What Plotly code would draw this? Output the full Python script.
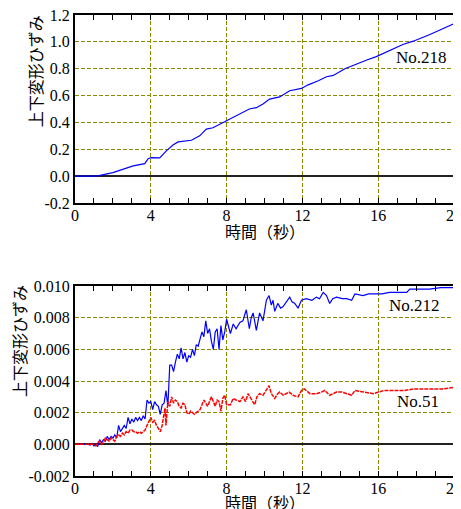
import plotly.graph_objects as go

# ---- data ----
t218 = [0, 1.14, 2.0, 3.07, 3.68, 3.86, 4.03, 4.47, 4.82, 5.17, 5.44, 5.88, 6.14, 6.58, 6.93, 7.28, 7.63, 8.16,
        8.7, 9.2, 9.57, 9.92, 10.27, 10.8, 11.33, 11.95, 12.3, 12.84, 13.27, 13.63, 14.24, 14.68, 15.4, 15.9,
        16.5, 17.3, 17.85, 18.73, 20.0]
v218 = [0, 0, 0.026, 0.076, 0.093, 0.13, 0.138, 0.136, 0.188, 0.232, 0.255, 0.265, 0.267, 0.30, 0.35, 0.36, 0.386, 0.42,
        0.46, 0.50, 0.51, 0.537, 0.574, 0.59, 0.636, 0.653, 0.68, 0.71, 0.74, 0.75, 0.80, 0.826, 0.865, 0.89,
        0.93, 0.98, 1.005, 1.055, 1.136]

t212 = [0, 0.7, 0.8, 0.9, 1.0, 1.1, 1.2, 1.3, 1.4, 1.5, 1.6, 1.7, 1.8, 1.9, 2.0, 2.1, 2.2, 2.3, 2.4, 2.5, 2.6, 2.7,
        2.8, 2.9, 3.0, 3.1, 3.2, 3.3, 3.4, 3.5, 3.6, 3.7, 3.8, 3.9, 4.0, 4.1, 4.2, 4.3, 4.4, 4.5, 4.6, 4.7, 4.8, 4.9,
        5.0, 5.1, 5.2, 5.3, 5.4, 5.5, 5.6, 5.7, 5.8, 5.9, 6.0, 6.1, 6.2, 6.3, 6.4, 6.5, 6.6, 6.7, 6.8, 6.9, 7.0,
        7.1, 7.2, 7.3, 7.4, 7.5, 7.6, 7.7, 7.8, 7.9, 8.0, 8.1, 8.2, 8.35, 8.5, 8.7, 8.86, 9.04, 9.2, 9.3, 9.4,
        9.57, 9.74, 9.92, 10.1, 10.24, 10.36, 10.45, 10.54, 10.7, 10.85, 10.98, 11.15, 11.33, 11.45, 11.6, 11.77,
        11.95, 12.2, 12.5, 12.74, 12.9, 13.1, 13.27, 13.44, 13.6, 13.8, 14.1, 14.33, 14.6, 14.77, 15.2, 15.5,
        15.9, 16.2, 16.6, 17.0, 17.5, 17.67, 18.2, 18.7, 19.3, 20.0]
v212 = [0, 0, -0.00005, 0.00005, -0.0001, 0.0, -0.00015, 0.0003, 0.0001, 0.0003, 0.0002, 0.0005, 0.0003, 0.0005,
        0.0004, 0.0006, 0.0004, 0.0012, 0.0008, 0.0010, 0.0012, 0.0010, 0.0017, 0.0013, 0.0016, 0.0014, 0.0017,
        0.0015, 0.0017, 0.0015, 0.0018, 0.0016, 0.0028, 0.0026, 0.0027, 0.0022, 0.0027, 0.0025, 0.0024, 0.0019,
        0.0025, 0.0026, 0.0034, 0.0024, 0.0050, 0.0050, 0.0046, 0.0052, 0.0057, 0.0054, 0.0061, 0.0054, 0.0058,
        0.0052, 0.0056, 0.0055, 0.0060, 0.0056, 0.0063, 0.0062, 0.0067, 0.0071, 0.0068, 0.0078, 0.0070, 0.0073,
        0.0065, 0.0060, 0.0071, 0.0073, 0.0060, 0.0075, 0.0066, 0.0071, 0.0079, 0.0074, 0.0070, 0.0076, 0.0073,
        0.0077, 0.0078, 0.0085, 0.0073, 0.0080, 0.0083, 0.0072, 0.0083, 0.0078, 0.0091, 0.0094, 0.0088, 0.0091,
        0.0084, 0.0089, 0.0086, 0.0087, 0.0090, 0.0093, 0.0090, 0.0089, 0.0086, 0.0091, 0.0092, 0.0091, 0.0093,
        0.0092, 0.0096, 0.0094, 0.0089, 0.0092, 0.0093, 0.0092, 0.0092, 0.0091, 0.0095, 0.0094, 0.0095, 0.0095,
        0.0095, 0.0096, 0.0096, 0.0096, 0.0098, 0.0098, 0.0098, 0.0099, 0.0099]

t51 = [0, 1.0, 1.1, 1.2, 1.3, 1.4, 1.5, 1.6, 1.7, 1.8, 1.9, 2.0, 2.1, 2.2, 2.3, 2.4, 2.5, 2.6, 2.7, 2.8, 2.9, 3.0,
       3.1, 3.2, 3.3, 3.4, 3.5, 3.6, 3.7, 3.8, 3.9, 4.0, 4.1, 4.2, 4.3, 4.4, 4.5, 4.6, 4.7, 4.75, 4.8, 4.85, 4.9,
       5.0, 5.1, 5.2, 5.3, 5.4, 5.5, 5.6, 5.7, 5.8, 5.9, 6.0, 6.1, 6.2, 6.3, 6.4, 6.5, 6.6, 6.7, 6.8, 6.9, 7.0,
       7.1, 7.2, 7.3, 7.4, 7.5, 7.6, 7.7, 7.8, 7.9, 8.0, 8.2, 8.35, 8.5, 8.7, 8.86, 9.0, 9.13, 9.3, 9.48, 9.6,
       9.74, 9.92, 10.1, 10.24, 10.36, 10.54, 10.7, 10.8, 11.0, 11.15, 11.3, 11.5, 11.77, 11.95, 12.1, 12.4,
       12.74, 13.0, 13.18, 13.44, 13.8, 14.1, 14.33, 14.6, 14.77, 15.2, 15.75, 16.3, 17.0, 17.4, 17.85, 18.73,
       19.4, 20.0]
v51 = [0, 0, -0.0001, 0.0001, 0.0002, 0.0000, 0.0001, 0.0004, 0.0003, 0.0002, 0.0004, 0.0003, 0.0002, 0.0005,
       0.0006, 0.0005, 0.0007, 0.0006, 0.0008, 0.0007, 0.0009, 0.0009, 0.0008, 0.0008, 0.0007, 0.0008, 0.0007,
       0.0008, 0.0009, 0.0012, 0.0015, 0.0017, 0.0014, 0.0015, 0.0012, 0.0010, 0.0008, 0.0012, 0.0019, 0.0023,
       0.0012, 0.0022, 0.0027, 0.0024, 0.0030, 0.0026, 0.0028, 0.0027, 0.0024, 0.0023, 0.0026, 0.0025, 0.0020,
       0.0019, 0.0021, 0.0020, 0.0019, 0.0020, 0.0021, 0.0022, 0.0025, 0.0028, 0.0026, 0.0024, 0.0027, 0.0030,
       0.0027, 0.0024, 0.0028, 0.0027, 0.0021, 0.0029, 0.0031, 0.0025, 0.0025, 0.0029, 0.0028, 0.0027, 0.0030,
       0.0027, 0.0032, 0.0029, 0.0025, 0.0030, 0.0032, 0.0031, 0.0034, 0.0037, 0.0032, 0.0029, 0.0032, 0.0033,
       0.0031, 0.0032, 0.0033, 0.0031, 0.0030, 0.0034, 0.0035, 0.0032, 0.0032, 0.0033, 0.0034, 0.0031, 0.0033,
       0.0033, 0.0032, 0.0031, 0.0034, 0.0033, 0.0032, 0.0034, 0.0034, 0.0034, 0.0035, 0.0035, 0.0035, 0.0036]

x_ticks = [0, 4, 8, 12, 16, 20]
x_labels = ["0", "4", "8", "12", "16", "20"]
y1_ticks = [-0.2, 0.0, 0.2, 0.4, 0.6, 0.8, 1.0, 1.2]
y1_labels = ["-0.2", "0.0", "0.2", "0.4", "0.6", "0.8", "1.0", "1.2"]
y2_ticks = [-0.002, 0.0, 0.002, 0.004, 0.006, 0.008, 0.010]
y2_labels = ["-0.002", "0.000", "0.002", "0.004", "0.006", "0.008", "0.010"]

y_title = "上下変形ひずみ"
x_title = "時間（秒）"

# ---- styling ----
SERIF = "Liberation Serif"
CJK = "Noto Sans CJK JP"
GRID = "#8a8a00"

fig = go.Figure()
fig.add_trace(go.Scatter(x=t218, y=v218, mode="lines", line=dict(color="#0000ff", width=1.2),
                         xaxis="x", yaxis="y", showlegend=False))
fig.add_trace(go.Scatter(x=t212, y=v212, mode="lines", line=dict(color="#0000ff", width=1.2),
                         xaxis="x2", yaxis="y2", showlegend=False))
fig.add_trace(go.Scatter(x=t51, y=v51, mode="lines", line=dict(color="#ff0000", width=1.5, dash="4px,1px"),
                         xaxis="x2", yaxis="y2", showlegend=False))

def xaxis(anchor):
    return dict(range=[0, 20], domain=[0, 1], anchor=anchor, tickvals=x_ticks, ticktext=x_labels,
                ticks="inside", ticklen=5, tickcolor="black", tickwidth=1,
                minor=dict(dtick=1, tick0=0, ticks="inside", ticklen=5, tickcolor="black", showgrid=False),
                showline=True, linecolor="black", linewidth=2, mirror="ticks",
                showgrid=True, gridcolor=GRID, griddash="4px,2px", gridwidth=1,
                zeroline=False, automargin=False, ticklabeloverflow="allow", ticklabelstandoff=-3,
                tickfont=dict(family=SERIF, size=16, color="black"))

def yaxis(anchor, rng, vals, labels, domain):
    return dict(range=rng, domain=domain, anchor=anchor, tickvals=vals, ticktext=labels, ticks="",
                showline=True, linecolor="black", linewidth=2, mirror=True,
                showgrid=True, gridcolor=GRID, griddash="4px,2px", gridwidth=1,
                zeroline=True, zerolinecolor="#222222", zerolinewidth=1.5, automargin=False,
                ticklabeloverflow="allow",
                tickfont=dict(family=SERIF, size=16, color="black"))

# page body has an 8px margin: figure is offset by (8, 8) in the window
fig.update_layout(
    width=453, height=501,
    margin=dict(l=67, r=7, t=7, b=33),
    paper_bgcolor="white", plot_bgcolor="white",
    xaxis=xaxis("y"),
    yaxis=yaxis("x", [-0.2, 1.2], y1_ticks, y1_labels, [0.5922, 1.0]),
    xaxis2=xaxis("y2"),
    yaxis2=yaxis("x2", [-0.002, 0.010], y2_ticks, y2_labels, [0.0, 0.4121]),
)

ann = []
# y titles
ann.append(dict(text=y_title, xref="paper", yref="paper", x=-0.1055, y=1.004, xanchor="center", yanchor="top",
                textangle=-90, showarrow=False, font=dict(family=CJK, size=16, color="black")))
ann.append(dict(text=y_title, xref="paper", yref="paper", x=-0.148, y=0.4187, xanchor="center", yanchor="top",
                textangle=-90, showarrow=False, font=dict(family=CJK, size=16, color="black")))
# x titles
ann.append(dict(text=x_title, xref="paper", yref="paper", x=0.5, y=0.5315, xanchor="center", yanchor="middle",
                showarrow=False, font=dict(family=CJK, size=16, color="black")))
ann.append(dict(text=x_title, xref="paper", yref="paper", x=0.5, y=-0.0565, xanchor="center", yanchor="middle",
                showarrow=False, font=dict(family=CJK, size=16, color="black")))
# series labels
ann.append(dict(text="No.218", xref="x", yref="y", x=19.74, y=0.88, xanchor="right", yanchor="middle",
                showarrow=False, font=dict(family=SERIF, size=17, color="black")))
ann.append(dict(text="No.212", xref="x2", yref="y2", x=19.37, y=0.0088, xanchor="right", yanchor="middle",
                showarrow=False, font=dict(family=SERIF, size=17, color="black")))
ann.append(dict(text="No.51", xref="x2", yref="y2", x=19.31, y=0.0027, xanchor="right", yanchor="middle",
                showarrow=False, font=dict(family=SERIF, size=17, color="black")))
fig.update_layout(annotations=ann)

fig.write_html("out.html")
